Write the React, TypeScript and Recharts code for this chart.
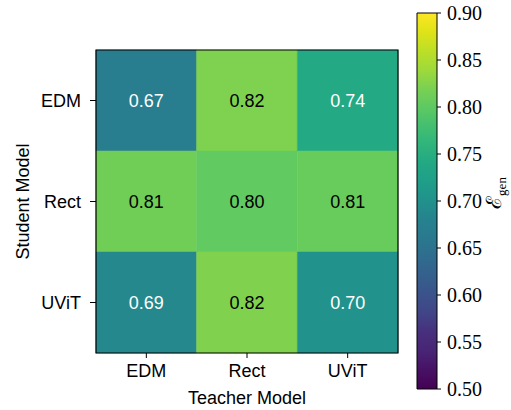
import React from 'react';
import { ComposedChart, XAxis, YAxis, ReferenceArea, Scatter } from 'recharts';

const teachers = ['EDM', 'Rect', 'UViT'];
const students = ['EDM', 'Rect', 'UViT'];
const rowEDM = [0.672, 0.822, 0.741];
const rowRect = [0.813, 0.802, 0.807];
const rowUViT = [0.688, 0.823, 0.703];
const rows = [rowEDM, rowRect, rowUViT];
const cbarTicks = [0.5, 0.55, 0.6, 0.65, 0.7, 0.75, 0.8, 0.85, 0.9];
const vmin = 0.5;
const vmax = 0.9;

const viridis = [
  '#440154', '#471164', '#482475', '#472f7d', '#414487', '#3b528b', '#355f8d',
  '#2f6c8e', '#2a788e', '#26828e', '#21918c', '#1f9e89', '#22a884', '#2fb47c',
  '#44bf70', '#5ec962', '#7ad151', '#9fda3a', '#bddf26', '#dfe318', '#fde725',
];

const hex = (h: string) => [1, 3, 5].map((i) => parseInt(h.slice(i, i + 2), 16));
const colorAt = (t: number) => {
  const c = Math.max(0, Math.min(1, t)) * (viridis.length - 1);
  const i = Math.min(Math.floor(c), viridis.length - 2);
  const f = c - i;
  const a = hex(viridis[i]);
  const b = hex(viridis[i + 1]);
  const m = a.map((v, k) => Math.round(v + (b[k] - v) * f));
  return `rgb(${m[0]},${m[1]},${m[2]})`;
};

const cells = rows.flatMap((row, r) => row.map((v, c) => ({ x: c, y: r, v })));

const sans = 'Liberation Sans, Arial, sans-serif';
const serif = 'Liberation Serif, Times New Roman, serif';

export default function App() {
  return (
    <div style={{ position: 'fixed', left: 0, top: 0, width: 511, height: 410, background: '#fff' }}>
      <div style={{ position: 'absolute', left: 0, top: 0 }}>
        <ComposedChart width={511} height={410} margin={{ top: 50, right: 113, bottom: 0, left: 0 }} data={cells}>
          <XAxis
            type="number"
            dataKey="x"
            domain={[-0.5, 2.5]}
            ticks={[0, 1, 2]}
            tickFormatter={(i: number) => teachers[i]}
            height={57}
            tickSize={5}
            tickMargin={6}
            axisLine={false}
            tickLine={{ stroke: '#000' }}
            tick={{ fill: '#000', fontSize: 18, fontFamily: sans }}
            allowDataOverflow
            label={{ value: 'Teacher Model', position: 'insideBottom', offset: 6, fill: '#000', fontSize: 18, fontFamily: sans }}
          />
          <YAxis
            type="number"
            dataKey="y"
            reversed
            domain={[-0.5, 2.5]}
            ticks={[0, 1, 2]}
            tickFormatter={(i: number) => students[i]}
            width={96}
            tickSize={6}
            tickMargin={9}
            axisLine={false}
            tickLine={{ stroke: '#000' }}
            tick={{ fill: '#000', fontSize: 18, fontFamily: sans }}
            allowDataOverflow
            label={{ value: 'Student Model', angle: -90, position: 'insideLeft', offset: 23, fill: '#000', fontSize: 18, fontFamily: sans, style: { textAnchor: 'middle' } }}
          />
          {cells.map((c) => (
            <ReferenceArea
              key={`${c.x}-${c.y}`}
              x1={c.x - 0.5}
              x2={c.x + 0.5}
              y1={c.y - 0.5}
              y2={c.y + 0.5}
              fill={colorAt((c.v - vmin) / (vmax - vmin))}
              fillOpacity={1}
              stroke={colorAt((c.v - vmin) / (vmax - vmin))}
              strokeWidth={0.5}
              label={{
                value: c.v.toFixed(2),
                position: 'center',
                fill: c.v > 0.78 ? '#000' : '#fff',
                fontSize: 18,
                fontFamily: sans,
              }}
            />
          ))}
          <ReferenceArea x1={-0.5} x2={2.5} y1={-0.5} y2={2.5} fill="none" stroke="#000" strokeWidth={1.2} />
          <Scatter dataKey="y" isAnimationActive={false} shape={() => <g />} />
        </ComposedChart>
      </div>
      <div style={{ position: 'absolute', left: 0, top: 0 }}>
        <ComposedChart width={511} height={410} margin={{ top: 13, right: 0, bottom: 21, left: 417 }} data={[{ x: 0, y: 0.7 }]}>
          <defs>
            <linearGradient id="viridisGrad" x1="0" y1="1" x2="0" y2="0">
              {viridis.map((c, i) => (
                <stop key={i} offset={i / (viridis.length - 1)} stopColor={c} />
              ))}
            </linearGradient>
          </defs>
          <XAxis type="number" dataKey="x" domain={[0, 1]} hide />
          <YAxis
            type="number"
            dataKey="y"
            orientation="right"
            domain={[vmin, vmax]}
            ticks={cbarTicks}
            tickFormatter={(v: number) => v.toFixed(2)}
            width={74}
            tickSize={4}
            tickMargin={6}
            axisLine={false}
            tickLine={{ stroke: '#000' }}
            tick={{ fill: '#000', fontSize: 20, fontFamily: serif }}
            interval={0}
            label={({ viewBox }: any) => {
              const cx = viewBox.x + 64;
              const cy = viewBox.y + viewBox.height / 2 - 8;
              return (
                <text
                  x={cx}
                  y={cy}
                  textAnchor="middle"
                  transform={`rotate(-90 ${cx} ${cy})`}
                  fill="#000"
                  fontFamily={serif}
                  fontSize={21}
                >
                  ℰ
                  <tspan dy={5} fontSize={13}>gen</tspan>
                </text>
              );
            }}
          />
          <ReferenceArea x1={0} x2={1} y1={vmin} y2={vmax} fill="url(#viridisGrad)" fillOpacity={1} stroke="#000" strokeWidth={1} />
          <Scatter dataKey="y" isAnimationActive={false} shape={() => <g />} />
        </ComposedChart>
      </div>
    </div>
  );
}
